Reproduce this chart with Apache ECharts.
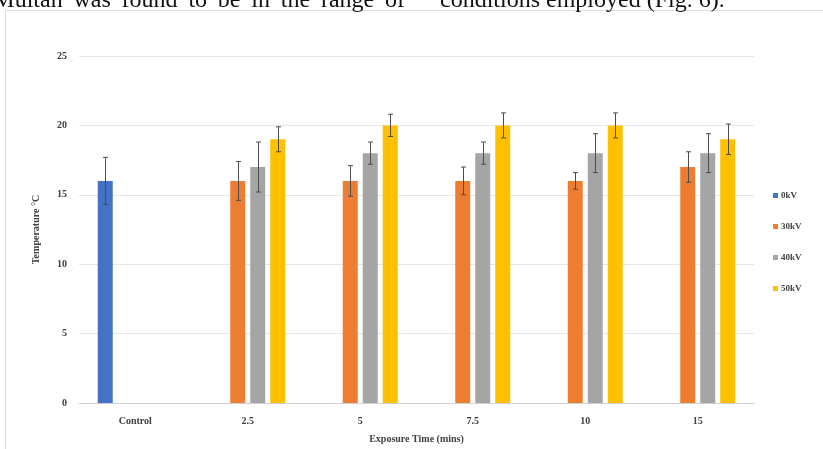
<!DOCTYPE html>
<html>
<head>
<meta charset="utf-8">
<script src="https://cdn.jsdelivr.net/npm/echarts@6/dist/echarts.min.js"></script>
<style>
  html, body { margin: 0; padding: 0; background: #ffffff; }
  #chart { width: 823px; height: 449px; }
</style>
</head>
<body>
<div id="chart"></div>
<script>
// Exposure time groups
const categories = ['Control', '2.5', '5', '7.5', '10', '15'];

// Mean temperature (°C) per voltage
const kv0  = [16, null, null, null, null, null];
const kv30 = [null, 16, 16, 16, 16, 17];
const kv40 = [null, 17, 18, 18, 18, 18];
const kv50 = [null, 19, 20, 20, 20, 19];

// Standard deviation per voltage
const err0  = [1.7, null, null, null, null, null];
const err30 = [null, 1.4, 1.1, 1.0, 0.6, 1.1];
const err40 = [null, 1.8, 0.8, 0.8, 1.4, 1.4];
const err50 = [null, 0.9, 0.8, 0.9, 0.9, 1.1];

const seriesNames = ['0kV', '30kV', '40kV', '50kV'];
const yTicks = { min: 0, max: 25, interval: 5 };

const colors = ['#4472C4', '#ED7D31', '#A5A5A5', '#FFC000'];
const means = [kv0, kv30, kv40, kv50];
const errs = [err0, err30, err40, err50];

const BAR_W = 15;
const BAR_GAP = 5;
const serif = '"Liberation Serif", "DejaVu Serif", serif';

// Justified body text line above the figure (wider word spacing)
const bodyLeft = 'Multan was found to be in the range of'.split(' ').join(' \u2009');
const bodyRight = 'conditions employed (Fig. 6).';

const chart = echarts.init(document.getElementById('chart'));

const barSeries = means.map((vals, i) => ({
  name: seriesNames[i],
  type: 'bar',
  barWidth: BAR_W,
  barGap: (BAR_GAP / BAR_W * 100).toFixed(1) + '%',
  itemStyle: { color: colors[i] },
  data: vals.map(v => (v == null ? '-' : v))
}));

// Error bars drawn at the centre of each bar slot in the cluster
const errorSeries = means.map((vals, i) => {
  const data = [];
  vals.forEach((v, k) => {
    if (v != null && errs[i][k] != null) data.push([k, v, errs[i][k]]);
  });
  const offset = (i - 1.5) * (BAR_W + BAR_GAP);
  return {
    type: 'custom',
    z: 5,
    silent: true,
    data: data,
    encode: { x: 0, y: 1 },
    renderItem: function (params, api) {
      const x = api.value(0), m = api.value(1), e = api.value(2);
      const hi = api.coord([x, m + e]);
      const lo = api.coord([x, m - e]);
      const cx = Math.round(hi[0] + offset) + 0.5;
      const cap = 2.5;
      const style = { stroke: '#4d4d4d', lineWidth: 1 };
      return {
        type: 'group',
        children: [
          { type: 'line', shape: { x1: cx, y1: hi[1], x2: cx, y2: lo[1] }, style },
          { type: 'line', shape: { x1: cx - cap, y1: hi[1], x2: cx + cap, y2: hi[1] }, style },
          { type: 'line', shape: { x1: cx - cap, y1: lo[1], x2: cx + cap, y2: lo[1] }, style }
        ]
      };
    }
  };
});

chart.setOption({
  animation: false,
  backgroundColor: '#ffffff',
  textStyle: { fontFamily: serif },
  graphic: [
    {
      type: 'rect',
      shape: { x: 5.5, y: 10.5, width: 820, height: 445 },
      style: { fill: 'none', stroke: '#dcdcdc', lineWidth: 1 },
      silent: true
    },
    {
      type: 'text',
      x: 405,
      y: -11,
      style: {
        text: bodyLeft,
        font: '24px "Liberation Serif", serif',
        fill: '#111111',
        align: 'right',
        verticalAlign: 'top'
      }
    },
    {
      type: 'text',
      x: 440,
      y: -11,
      style: {
        text: bodyRight,
        font: '24px "Liberation Serif", serif',
        fill: '#111111',
        align: 'left',
        verticalAlign: 'top'
      }
    }
  ],
  legend: {
    orient: 'vertical',
    left: 768,
    top: 186,
    itemWidth: 5,
    itemHeight: 5,
    itemGap: 22,
    icon: 'rect',
    data: seriesNames,
    textStyle: { fontFamily: serif, fontWeight: 'bold', fontSize: 9, color: '#404040', padding: [0, 0, 0, -2] }
  },
  grid: { left: 79, right: 69, top: 56, bottom: 43, containLabel: false },
  xAxis: {
    type: 'category',
    data: categories,
    name: 'Exposure Time (mins)',
    nameLocation: 'middle',
    nameGap: 31,
    nameTextStyle: { fontFamily: serif, fontWeight: 'bold', fontSize: 10, color: '#404040' },
    axisLine: { lineStyle: { color: '#d0d0d0' } },
    axisTick: { show: false },
    axisLabel: { fontFamily: serif, fontWeight: 'bold', fontSize: 10, color: '#404040', margin: 13 }
  },
  yAxis: {
    type: 'value',
    min: yTicks.min,
    max: yTicks.max,
    interval: yTicks.interval,
    name: 'Temperature °C',
    nameLocation: 'middle',
    nameGap: 38,
    nameRotate: 90,
    nameTextStyle: { fontFamily: serif, fontWeight: 'bold', fontSize: 10, color: '#404040' },
    axisLine: { show: false },
    axisTick: { show: false },
    splitLine: { lineStyle: { color: '#e6e6e6' } },
    axisLabel: { fontFamily: serif, fontWeight: 'bold', fontSize: 10, color: '#404040', margin: 12 }
  },
  series: barSeries.concat(errorSeries)
});
</script>
</body>
</html>
